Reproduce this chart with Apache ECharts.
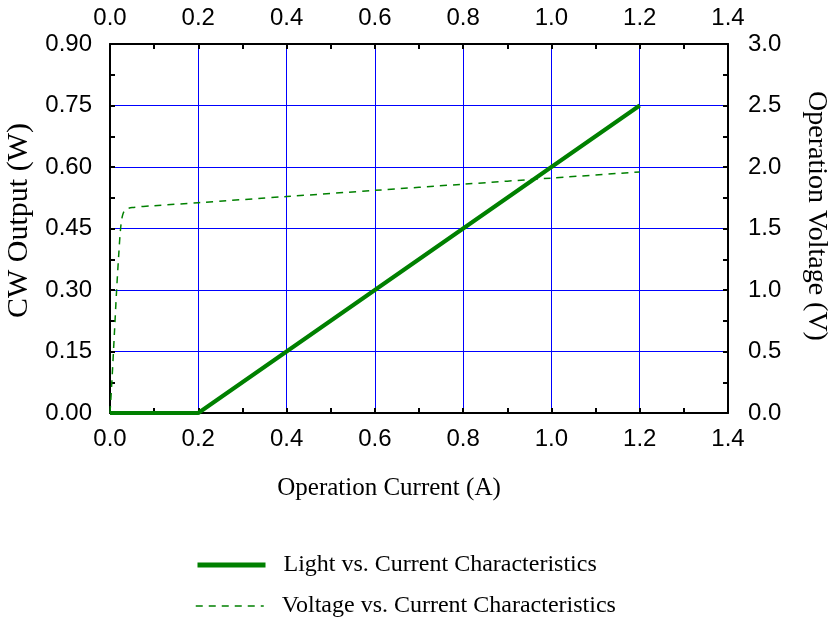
<!DOCTYPE html>
<html>
<head>
<meta charset="utf-8">
<script src="https://cdn.jsdelivr.net/npm/echarts@6/dist/echarts.min.js"></script>
<style>
  html, body { margin: 0; padding: 0; background: #fff; }
</style>
</head>
<body>
<div id="chart" style="width: 830px; height: 621px;"></div>
<script>
// 光输出 (W) vs 工作电流 (A)
const lightCurrent = [0, 0.2, 1.2];
const lightOutput = [0, 0, 0.75];

// 工作电压 (V) vs 工作电流 (A)
const voltCurrent = [0, 0.004, 0.01, 0.015, 0.02, 0.024, 0.028, 0.034, 0.05, 0.1, 0.2, 0.4, 0.6, 0.8, 1.0, 1.2];
const voltage = [0, 0.24, 0.65, 1.0, 1.3, 1.5, 1.6, 1.65, 1.67, 1.685, 1.71, 1.76, 1.81, 1.86, 1.91, 1.96];

const seriesNames = ["Light vs. Current Characteristics", "Voltage vs. Current Characteristics"];

const green = "#008000";
const gridBlue = "#0000ff";
const sansFont = "Liberation Sans";
const serifFont = "Liberation Serif";

const chart = echarts.init(document.getElementById("chart"));

const xAxisBase = {
  type: "value",
  min: 0,
  max: 1.4,
  interval: 0.2,
  axisLine: { show: true, onZero: false, lineStyle: { color: "#000", width: 2 } },
  axisTick: { show: true, inside: true, length: 5, lineStyle: { color: "#000", width: 2 } },
  minorTick: { show: true, splitNumber: 2, length: 5, lineStyle: { color: "#000", width: 2 } },
  axisLabel: {
    color: "#000",
    fontFamily: sansFont,
    fontSize: 24,
    margin: 14,
    formatter: v => v.toFixed(1)
  }
};

// 图例：每行一个
const legendBase = {
  orient: "vertical",
  left: 190,
  itemWidth: 68,
  itemHeight: 14,
  itemStyle: { opacity: 0 },
  textStyle: { color: "#000", fontFamily: serifFont, fontSize: 24, padding: [0, 0, 0, 13] }
};

chart.setOption({
  animation: false,
  grid: { left: 110, right: 102, top: 44, bottom: 208, outerBoundsMode: "none" },
  legend: [
    Object.assign({}, legendBase, {
      data: [seriesNames[0]], top: 548,
      lineStyle: { width: 5 }
    }),
    Object.assign({}, legendBase, {
      data: [seriesNames[1]], top: 589,
      lineStyle: { width: 1.5 }
    })
  ],
  xAxis: [
    Object.assign({}, xAxisBase, {
      position: "bottom",
      name: "Operation Current (A)",
      nameLocation: "middle",
      nameGap: 63,
      nameTextStyle: { color: "#000", fontFamily: serifFont, fontSize: 25, padding: [0, 60, 0, 0] },
      splitLine: { show: true, lineStyle: { color: gridBlue, width: 1 } }
    }),
    Object.assign({}, xAxisBase, {
      position: "top",
      splitLine: { show: false }
    })
  ],
  yAxis: [
    {
      type: "value",
      position: "left",
      min: 0,
      max: 0.9,
      interval: 0.15,
      name: "CW Output (W)",
      nameLocation: "middle",
      nameGap: 74,
      nameTextStyle: { color: "#000", fontFamily: serifFont, fontSize: 30, padding: [0, 0, 0, 16] },
      axisLine: { show: true, onZero: false, lineStyle: { color: "#000", width: 2 } },
      axisTick: { show: true, inside: true, length: 5, lineStyle: { color: "#000", width: 2 } },
      minorTick: { show: true, splitNumber: 2, length: 5, lineStyle: { color: "#000", width: 2 } },
      axisLabel: {
        color: "#000",
        fontFamily: sansFont,
        fontSize: 24,
        margin: 18,
        formatter: v => v.toFixed(2)
      },
      splitLine: { show: true, lineStyle: { color: gridBlue, width: 1 } }
    },
    {
      type: "value",
      position: "right",
      min: 0,
      max: 3,
      interval: 0.5,
      name: "Operation Voltage (V)",
      nameLocation: "middle",
      nameGap: 74,
      nameRotate: -90,
      nameTextStyle: { color: "#000", fontFamily: serifFont, fontSize: 28, padding: [0, 25, 0, 0] },
      axisLine: { show: true, onZero: false, lineStyle: { color: "#000", width: 2 } },
      axisTick: { show: true, inside: true, length: 5, lineStyle: { color: "#000", width: 2 } },
      minorTick: { show: true, splitNumber: 2, length: 5, lineStyle: { color: "#000", width: 2 } },
      axisLabel: {
        color: "#000",
        fontFamily: sansFont,
        fontSize: 24,
        margin: 20,
        formatter: v => v.toFixed(1)
      },
      splitLine: { show: false }
    }
  ],
  series: [
    {
      name: seriesNames[0],
      type: "line",
      xAxisIndex: 0,
      yAxisIndex: 0,
      symbol: "none",
      data: lightCurrent.map((c, i) => [c, lightOutput[i]]),
      lineStyle: { color: green, width: 4 },
      itemStyle: { color: green },
      z: 3
    },
    {
      name: seriesNames[1],
      type: "line",
      xAxisIndex: 0,
      yAxisIndex: 1,
      symbol: "none",
      smooth: 0.3,
      data: voltCurrent.map((c, i) => [c, voltage[i]]),
      lineStyle: { color: green, width: 1.5, type: [7, 6] },
      itemStyle: { color: green },
      z: 2
    }
  ]
});
</script>
</body>
</html>
